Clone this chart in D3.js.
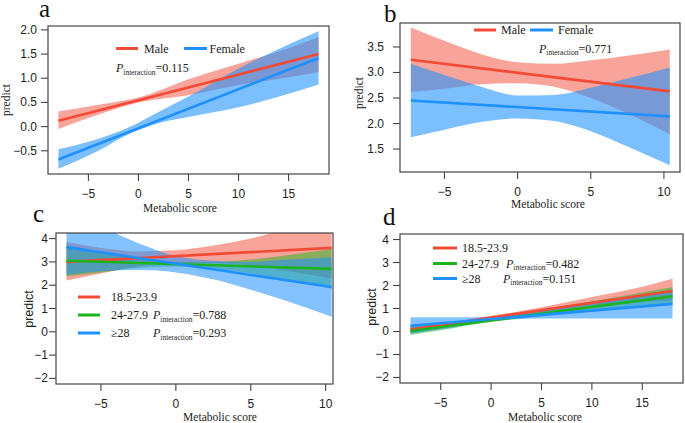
<!DOCTYPE html>
<html>
<head>
<meta charset="utf-8">
<script src="https://cdn.jsdelivr.net/npm/d3@7"></script>
<style>
  body { margin: 0; background: #fff; }
  svg { display: block; }
</style>
</head>
<body>
<div id="chart"></div>
<script>
// panel a: sex, metabolic score -8..18
var xA = [-8, -4, 0, 5, 10, 15, 18];
var maleLoA = [-0.05, 0.25, 0.50, 0.65, 0.86, 1.02, 1.13];
var maleHiA = [0.31, 0.45, 0.60, 0.98, 1.30, 1.62, 1.85];
var xFemA = [-8, -4, -1, 2, 5, 10, 15, 18];
var femLoA = [-0.87, -0.50, -0.16, 0.07, 0.20, 0.40, 0.68, 0.87];
var femHiA = [-0.47, -0.25, -0.02, 0.30, 0.62, 1.20, 1.70, 1.97];
var maleLineA = [0.12, 1.50];
var femLineA = [-0.68, 1.42];

// panel b: sex, metabolic score -7.3..10.4
var xB = [-7.3, -5, -2.5, 0, 2.5, 5, 7.5, 10.4];
var maleLoB = [2.62, 2.68, 2.77, 2.79, 2.72, 2.50, 2.20, 1.79];
var maleHiB = [3.88, 3.62, 3.36, 3.20, 3.17, 3.24, 3.33, 3.45];
var femLoB = [1.73, 1.88, 2.03, 2.10, 2.05, 1.85, 1.55, 1.18];
var femHiB = [3.17, 2.95, 2.72, 2.55, 2.56, 2.70, 2.88, 3.10];
var maleLineB = [3.25, 2.63];
var femLineB = [2.45, 2.14];

// panel c: BMI groups, metabolic score -7.3..10.4
var xC = [-7.3, -5, -2.5, 0, 2.5, 5, 7.5, 10.4];
var bmi1LoC = [2.20, 2.50, 2.80, 2.95, 2.95, 2.85, 2.60, 2.30];
var bmi1HiC = [3.85, 3.60, 3.45, 3.50, 3.70, 4.00, 4.45, 4.90];
var bmi2LoC = [2.38, 2.55, 2.75, 2.80, 2.70, 2.50, 2.20, 1.85];
var bmi2HiC = [3.72, 3.45, 3.20, 3.00, 3.00, 3.10, 3.30, 3.55];
var bmi3LoC = [2.45, 2.60, 2.65, 2.55, 2.25, 1.80, 1.30, 0.65];
var bmi3HiC = [5.00, 4.50, 3.80, 3.25, 3.05, 3.00, 3.10, 3.20];
var bmi1LineC = [3.00, 3.60];
var bmi2LineC = [3.05, 2.70];
var bmi3LineC = [3.63, 1.92];

// panel d: BMI groups, metabolic score -8..18
var xD = [-8, -5, 0, 5, 10, 15, 18];
var bmi1LoD = [-0.05, 0.15, 0.52, 0.80, 1.05, 1.28, 1.35];
var bmi1HiD = [0.25, 0.35, 0.68, 1.05, 1.50, 1.95, 2.29];
var bmi2LoD = [-0.15, 0.05, 0.42, 0.65, 0.90, 1.10, 1.20];
var bmi2HiD = [0.20, 0.30, 0.58, 0.90, 1.30, 1.70, 1.93];
var bmi3LoD = [-0.10, 0.10, 0.45, 0.57, 0.57, 0.57, 0.57];
var bmi3HiD = [0.62, 0.62, 0.62, 0.95, 1.30, 1.60, 1.80];
var bmi1LineD = [0.09, 1.76];
var bmi2LineD = [0.02, 1.53];
var bmi3LineD = [0.25, 1.20];

var sexNames = ["Male", "Female"];
var bmiNames = ["18.5-23.9", "24-27.9", "\u226528"];
var pA = ["0.115"];
var pB = ["0.771"];
var pC = ["0.788", "0.293"];
var pD = ["0.482", "0.151"];

var ticksXA = [-5, 0, 5, 10, 15];
var ticksXB = [-5, 0, 5, 10];
var ticksYA = [-0.5, 0, 0.5, 1, 1.5, 2];
var ticksYB = [1.5, 2, 2.5, 3, 3.5];
var ticksYC = [-2, -1, 0, 1, 2, 3, 4];

var red = "#F24A35", blue = "#1E90FF", green = "#1DB31D";
var serif = "Liberation Serif";
var sans = "Liberation Sans";

var svg = d3.select("#chart").append("svg")
	.attr("width", 685)
	.attr("height", 423);

function fmt1(v) { return d3.format(".1f")(v).replace("-", "\u2212"); }
function fmt0(v) { return d3.format("d")(v).replace("-", "\u2212"); }

var panels = [
	{
		id: "a", box: [48, 26, 329, 174], xDom: [-9.04, 19.04], yDom: [-0.98, 2.08],
		xTicks: ticksXA, yTicks: ticksYA, yFmt: fmt1, yLabGap: 11,
		letter: [39, 17], xTitle: [180, 212], yTitle: [10, 100], yTitleFont: serif,
		series: [
			{ x: xA, lo: maleLoA, hi: maleHiA, line: maleLineA, lx: [-8, 18], col: red, op: 0.5 },
			{ x: xFemA, lo: femLoA, hi: femHiA, line: femLineA, lx: [-8, 18], col: blue, op: 0.58 }
		],
		legend: function(g) {
			legItem(g, 116, 138, 48.5, red, sexNames[0], 144, 52.5);
			legItem(g, 184, 207, 48.5, blue, sexNames[1], 209.5, 52.5);
			pText(g, 116, 72, pA[0]);
		}
	},
	{
		id: "b", box: [400, 23, 680, 172], xDom: [-8.04, 11.1], yDom: [1.05, 3.97],
		xTicks: ticksXB, yTicks: ticksYB, yFmt: fmt1, yLabGap: 16,
		letter: [384, 21.5], xTitle: [548, 208], yTitle: [363, 93], yTitleFont: serif,
		series: [
			{ x: xB, lo: maleLoB, hi: maleHiB, line: maleLineB, lx: [-7.3, 10.4], col: red, op: 0.5 },
			{ x: xB, lo: femLoB, hi: femHiB, line: femLineB, lx: [-7.3, 10.4], col: blue, op: 0.58 }
		],
		legend: function(g) {
			legItem(g, 474, 496, 30, red, sexNames[0], 501, 34);
			legItem(g, 530, 553, 30, blue, sexNames[1], 558, 34);
			pText(g, 539, 52.5, pB[0]);
		}
	},
	{
		id: "c", box: [56, 233, 333, 384], xDom: [-8.0, 10.49], yDom: [-2.24, 4.24],
		xTicks: ticksXB, yTicks: ticksYC, yFmt: fmt0, yLabGap: 8,
		letter: [33, 221.5], xTitle: [220, 421], yTitle: [33, 309], yTitleFont: sans,
		series: [
			{ x: xC, lo: bmi1LoC, hi: bmi1HiC, line: bmi1LineC, lx: [-7.3, 10.4], col: red, op: 0.5 },
			{ x: xC, lo: bmi2LoC, hi: bmi2HiC, line: bmi2LineC, lx: [-7.3, 10.4], col: green, op: 0.5 },
			{ x: xC, lo: bmi3LoC, hi: bmi3HiC, line: bmi3LineC, lx: [-7.3, 10.4], col: blue, op: 0.55 }
		],
		legend: function(g) {
			legItem(g, 78, 100, 297, red, bmiNames[0], 111, 301);
			legItem(g, 78, 100, 315, green, bmiNames[1], 111, 319);
			legItem(g, 78, 100, 333, blue, bmiNames[2], 111, 337);
			pText(g, 153, 319, pC[0]);
			pText(g, 153, 337, pC[1]);
		}
	},
	{
		id: "d", box: [400, 234, 683, 383], xDom: [-9.04, 19.04], yDom: [-2.24, 4.24],
		xTicks: ticksXA, yTicks: ticksYC, yFmt: fmt0, yLabGap: 11,
		letter: [383, 224.5], xTitle: [545, 421], yTitle: [376, 307], yTitleFont: sans,
		series: [
			{ x: xD, lo: bmi1LoD, hi: bmi1HiD, line: bmi1LineD, lx: [-8, 18], col: red, op: 0.5 },
			{ x: xD, lo: bmi2LoD, hi: bmi2HiD, line: bmi2LineD, lx: [-8, 18], col: green, op: 0.5 },
			{ x: xD, lo: bmi3LoD, hi: bmi3HiD, line: bmi3LineD, lx: [-8, 18], col: blue, op: 0.55 }
		],
		legend: function(g) {
			legItem(g, 433, 457, 248, red, bmiNames[0], 462, 252);
			legItem(g, 433, 457, 263.5, green, bmiNames[1], 462, 267.5);
			legItem(g, 433, 457, 278.5, blue, bmiNames[2], 462, 282.5);
			pText(g, 506, 267.5, pD[0]);
			pText(g, 503, 282.5, pD[1]);
		}
	}
];

//legend line plus label
function legItem(g, x1, x2, y, col, label, tx, ty)
{
	g.append("line")
		.attr("x1", x1).attr("x2", x2)
		.attr("y1", y).attr("y2", y)
		.style("stroke", col)
		.style("stroke-width", 3);
	g.append("text")
		.attr("x", tx).attr("y", ty)
		.attr("font-family", serif)
		.attr("font-size", 12)
		.attr("fill", "#222")
		.text(label);
}

//P_interaction=value
function pText(g, x, y, val)
{
	var t = g.append("text")
		.attr("x", x).attr("y", y)
		.attr("font-family", serif)
		.attr("font-size", 12)
		.attr("fill", "#222");
	t.append("tspan").attr("font-style", "italic").text("P");
	t.append("tspan").attr("dy", 2.5).attr("font-size", 7.5).text("interaction");
	t.append("tspan").attr("dy", -2.5).text("=" + val);
}

panels.forEach(function(p)
{
	var l = p.box[0], t = p.box[1], r = p.box[2], b = p.box[3];
	var x = d3.scaleLinear().domain(p.xDom).range([l, r]);
	var y = d3.scaleLinear().domain(p.yDom).range([b, t]);
	var g = svg.append("g");

	g.append("clipPath").attr("id", "clip" + p.id)
		.append("rect")
		.attr("x", l).attr("y", t)
		.attr("width", r - l).attr("height", b - t);

	var plot = g.append("g").attr("clip-path", "url(#clip" + p.id + ")");

	//confidence bands
	p.series.forEach(function(s)
	{
		var pts = s.x.map(function(v, i) { return [v, s.lo[i], s.hi[i]]; });
		var area = d3.area()
			.x(function(d) { return x(d[0]); })
			.y0(function(d) { return y(d[1]); })
			.y1(function(d) { return y(d[2]); })
			.curve(d3.curveMonotoneX);
		plot.append("path")
			.datum(pts)
			.attr("d", area)
			.style("fill", s.col)
			.style("fill-opacity", s.op)
			.style("stroke", "none");
	});

	//fitted lines
	p.series.forEach(function(s)
	{
		plot.append("line")
			.attr("x1", x(s.lx[0])).attr("x2", x(s.lx[1]))
			.attr("y1", y(s.line[0])).attr("y2", y(s.line[1]))
			.style("stroke", s.col)
			.style("stroke-width", 2.6);
	});

	//box
	g.append("rect")
		.attr("x", l).attr("y", t)
		.attr("width", r - l).attr("height", b - t)
		.style("fill", "none")
		.style("stroke", "#444")
		.style("stroke-width", 1.2);

	//x ticks
	p.xTicks.forEach(function(v)
	{
		g.append("line")
			.attr("x1", x(v)).attr("x2", x(v))
			.attr("y1", b).attr("y2", b + 7)
			.style("stroke", "#444").style("stroke-width", 1.1);
		g.append("text")
			.attr("x", x(v)).attr("y", b + 24)
			.attr("text-anchor", "middle")
			.attr("font-family", sans).attr("font-size", 12)
			.attr("fill", "#222")
			.text(fmt0(v));
	});

	//y ticks
	p.yTicks.forEach(function(v)
	{
		g.append("line")
			.attr("x1", l - 7).attr("x2", l)
			.attr("y1", y(v)).attr("y2", y(v))
			.style("stroke", "#444").style("stroke-width", 1.1);
		g.append("text")
			.attr("x", l - p.yLabGap).attr("y", y(v) + 4)
			.attr("text-anchor", "end")
			.attr("font-family", sans).attr("font-size", 12)
			.attr("fill", "#222")
			.text(p.yFmt(v));
	});

	//titles
	g.append("text")
		.attr("x", p.xTitle[0]).attr("y", p.xTitle[1])
		.attr("text-anchor", "middle")
		.attr("font-family", serif).attr("font-size", 11.5)
		.attr("fill", "#222")
		.text("Metabolic score");

	g.append("text")
		.attr("transform", "translate(" + p.yTitle[0] + "," + p.yTitle[1] + ") rotate(-90)")
		.attr("text-anchor", "middle")
		.attr("font-family", p.yTitleFont)
		.attr("font-size", p.yTitleFont == sans ? 12.5 : 11.5)
		.attr("fill", "#222")
		.text("predict");

	g.append("text")
		.attr("x", p.letter[0]).attr("y", p.letter[1])
		.attr("font-family", serif).attr("font-size", 25)
		.attr("fill", "#111")
		.text(p.id);

	p.legend(g);
});
</script>
</body>
</html>
